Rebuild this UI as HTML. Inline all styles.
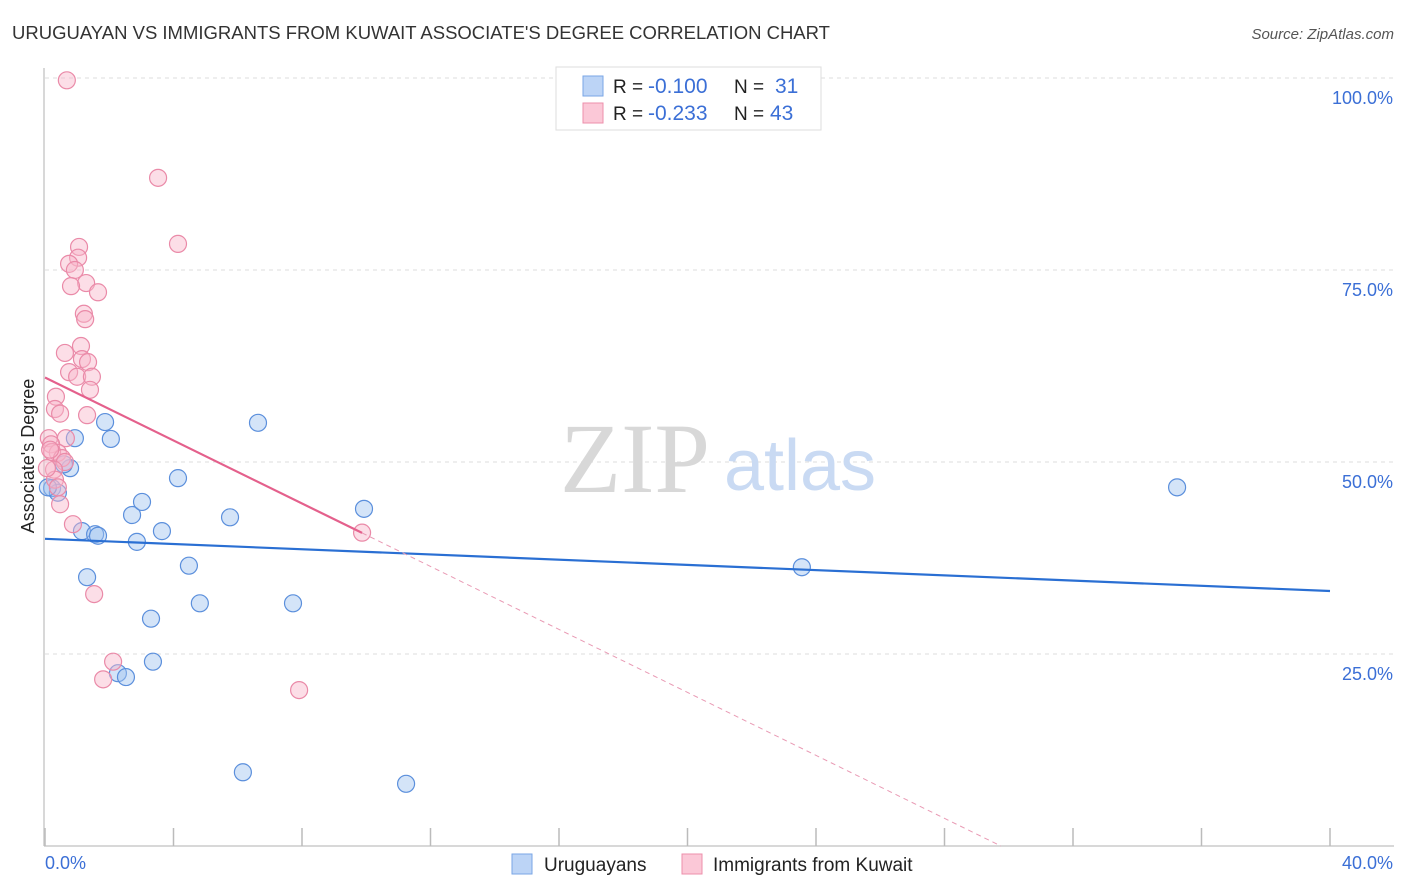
<!DOCTYPE html>
<html><head><meta charset="utf-8"><style>
body{margin:0;background:#fff;font-family:"Liberation Sans",sans-serif;}
svg{display:block}
</style></head><body>
<svg id="chart" width="1406" height="892" xmlns="http://www.w3.org/2000/svg">
<text x="12" y="39" font-size="18.5" fill="#333">URUGUAYAN VS IMMIGRANTS FROM KUWAIT ASSOCIATE'S DEGREE CORRELATION CHART</text>
<text x="1394" y="39" font-size="15" fill="#555" font-style="italic" text-anchor="end">Source: ZipAtlas.com</text>
<g id="grid"></g>
<text x="635" y="492" font-size="100" fill="#d8d8d8" text-anchor="middle" font-family="Liberation Serif,serif">ZIP</text>
<text x="800" y="490" font-size="72" fill="#c9daf3" text-anchor="middle">atlas</text>
<line x1="44" y1="68" x2="44" y2="846" stroke="#ccc" stroke-width="1.5"/>
<line x1="44" y1="846" x2="1394" y2="846" stroke="#ccc" stroke-width="1.5"/>
<g id="ticks"></g>
<text transform="translate(34,456) rotate(-90)" font-size="18" fill="#222" text-anchor="middle">Associate's Degree</text>
<text x="45" y="869" font-size="18" fill="#3b6fd6">0.0%</text>
<text x="1393" y="869" font-size="18" fill="#3b6fd6" text-anchor="end">40.0%</text>
<g id="pts"></g>
<g id="lines"></g>
<g>
<rect x="556" y="67" width="265" height="63" fill="#fff" stroke="#ddd"/>
<rect x="583" y="76" width="20" height="20" fill="#bcd4f6" stroke="#7aa6e6"/>
<rect x="583" y="103" width="20" height="20" fill="#bcd4f6" stroke="#7aa6e6" style="fill:#fbc8d7;stroke:#ec8fab"/>
<text x="613" y="93" font-size="19" fill="#222">R = <tspan fill="#3b6fd6" font-size="21" x="648">-0.100</tspan><tspan x="734">N = </tspan><tspan fill="#3b6fd6" font-size="21" x="775">31</tspan></text>
<text x="613" y="120" font-size="19" fill="#222">R = <tspan fill="#3b6fd6" font-size="21" x="648">-0.233</tspan><tspan x="734">N = </tspan><tspan fill="#3b6fd6" font-size="21" x="770">43</tspan></text>
</g>
<g><rect x="512" y="854" width="20" height="20" fill="#bcd4f6" stroke="#7aa6e6"/><text x="544" y="871" font-size="19" fill="#222">Uruguayans</text></g>
<g><rect x="682" y="854" width="20" height="20" fill="#fbc8d7" stroke="#ec8fab"/><text x="713" y="871" font-size="19" fill="#222">Immigrants from Kuwait</text></g>
</svg>
<script>
const yTicks=[25,50,75,100];
const yTickLabels=["25.0%","50.0%","75.0%","100.0%"];
const xTicks=[0,4,8,12,16,20,24,28,32,36,40];
const blueX=[1.87,2.05,0.93,0.78,0.59,0.22,0.40,0.09,1.15,1.56,1.65,2.71,3.02,2.86,3.64,4.14,1.31,4.48,4.82,3.30,3.36,2.27,2.52,5.76,6.63,7.72,9.93,6.16,11.24,23.56,35.24];
const blueY=[55.2,53.0,53.1,49.2,49.7,46.6,46.0,46.7,41.0,40.6,40.4,43.1,44.8,39.6,41.0,47.9,35.0,36.5,31.6,29.6,24.0,22.5,22.0,42.8,55.1,31.6,43.9,9.6,8.1,36.3,46.7];
const pinkX=[0.68,3.52,4.14,1.06,1.03,0.75,0.93,1.28,0.81,1.65,1.21,1.25,1.12,0.62,1.15,1.34,0.75,1.00,1.46,1.40,0.34,0.31,0.47,1.31,0.12,0.65,0.19,0.40,0.22,0.53,0.62,0.28,0.31,0.47,0.87,1.53,2.12,1.81,7.91,9.87,0.40,0.16,0.06];
const pinkY=[99.7,87.0,78.4,78.0,76.6,75.8,75.0,73.3,72.9,72.1,69.3,68.6,65.1,64.2,63.4,63.0,61.7,61.1,61.1,59.4,58.5,56.9,56.3,56.1,53.1,53.1,52.3,51.2,51.3,50.5,50.0,49.0,47.7,44.5,41.9,32.8,24.0,21.7,20.3,40.8,46.7,51.6,49.2];
const blueTrend=[40.0,33.2];
const pinkTrend=[61.0,-2.05];
const NS="http://www.w3.org/2000/svg";
const sx=v=>45+v*1285/40;
const sy=v=>846-v*7.68;
function mk(t,a,p){const e=document.createElementNS(NS,t);for(const k in a)e.setAttribute(k,a[k]);p.appendChild(e);return e;}
const grid=document.getElementById('grid');
yTicks.forEach((t,i)=>{
  const l=mk('line',{x1:45,x2:1394,y1:sy(t),y2:sy(t),stroke:'#ddd','stroke-dasharray':'4,4'},grid);
  
  
  const tx=mk('text',{x:1393,y:sy(t)+26,'font-size':18,fill:'#3b6fd6','text-anchor':'end'},grid);
  tx.textContent=yTickLabels[i];
  
  
});
const tk=document.getElementById('ticks');
xTicks.forEach(t=>{
  const l=mk('line',{x1:sx(t),x2:sx(t),y1:828,y2:846,stroke:'#bbb','stroke-width':1.5},tk);
  
  
});
const pts=document.getElementById('pts');
blueX.forEach((x,i)=>{
  const c=mk('circle',{cx:sx(x),cy:sy(blueY[i]),r:8.5,fill:'rgba(160,196,240,0.45)',stroke:'#5b8fdc','stroke-width':1.2},pts);
  
  
});
pinkX.forEach((x,i)=>{
  const c=mk('circle',{cx:sx(x),cy:sy(pinkY[i]),r:8.5,fill:'rgba(248,182,202,0.45)',stroke:'#ea8aa8','stroke-width':1.2},pts);
  
  
});
const ln=document.getElementById('lines');
const bl=mk('line',{x1:sx(0),y1:sy(blueTrend[0]),x2:sx(40),y2:sy(blueTrend[1]),stroke:'#2a6fd3','stroke-width':2.2},ln);


const pEnd=9.87, pZero=-pinkTrend[0]/pinkTrend[1];
const pl=mk('line',{x1:sx(0),y1:sy(pinkTrend[0]),x2:sx(pEnd),y2:sy(pinkTrend[0]+pinkTrend[1]*pEnd),stroke:'#e4608c','stroke-width':2.2},ln);


const pd=mk('line',{x1:sx(pEnd),y1:sy(pinkTrend[0]+pinkTrend[1]*pEnd),x2:sx(pZero),y2:sy(0),stroke:'#e99ab4','stroke-width':1,'stroke-dasharray':'5,4'},ln);


</script>
</body></html>
